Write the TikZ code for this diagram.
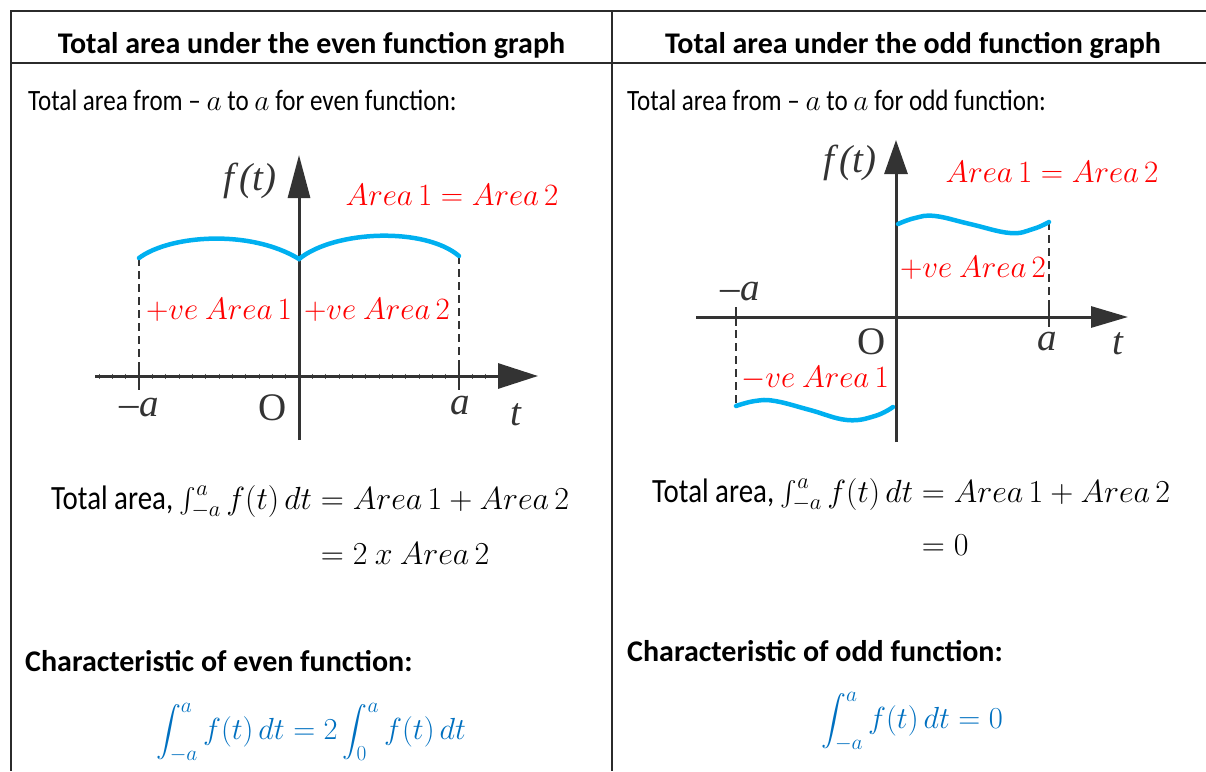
\RequirePackage{fix-cm}
\documentclass[tikz,border=0pt]{standalone}
\usepackage[no-math]{fontspec}
\setmainfont{Carlito}
\newfontfamily\cond[FakeStretch=0.85]{Carlito}
\newfontfamily\tms{Liberation Serif}
\usepackage{amsmath}
\usetikzlibrary{arrows.meta}
\definecolor{gridc}{HTML}{2B2B2B}
\definecolor{axisc}{HTML}{333333}
\definecolor{curvec}{HTML}{00B0F0}
\definecolor{redc}{HTML}{FF0000}
\definecolor{bluec}{HTML}{0070C0}
\newcommand{\plain}[1]{\text{\cond\fontsize{34}{38}\selectfont #1}}
\begin{document}
\begin{tikzpicture}[x=1pt,y=-1pt,
  rule/.style={gridc,line width=2pt},
  axis/.style={axisc,line width=3pt},
  tick/.style={axisc,line width=2.5pt},
  minor/.style={axisc!80,line width=0.8pt},
  guide/.style={axisc,line width=1.8pt,dash pattern=on 8pt off 5pt},
  curve/.style={curvec,line width=4.5pt,line cap=round},
  hdr/.style={inner sep=0pt,font=\bfseries\fontsize{30}{36}\selectfont},
  body/.style={inner sep=0pt,anchor=west,font=\cond\fontsize{29.5}{34}\selectfont},
  boldbody/.style={inner sep=0pt,anchor=west,font=\bfseries\fontsize{30}{36}\selectfont},
  eqn/.style={inner sep=0pt,anchor=base west,font=\fontsize{32}{38}\selectfont},
  bigeq/.style={inner sep=0pt,text=bluec,font=\fontsize{30.5}{36}\selectfont},
  redlab/.style={inner sep=0pt,text=redc,font=\fontsize{31}{36}\selectfont},
  axlab/.style={inner sep=0pt,text=axisc,font=\tms\fontsize{39}{43}\selectfont},
]
\useasboundingbox (0,0) rectangle (1206,771);
% ---------- table rules ----------
\coordinate (tl) at (11,11);
\coordinate (tr) at (1206,11);
\coordinate (hl) at (11,63);
\coordinate (hr) at (1206,63);
\coordinate (bl) at (11,771);
\coordinate (tm) at (612,11);
\coordinate (bm) at (612,771);
\draw[rule] (tr) -- (tl) -- (bl);
\draw[rule] (hl) -- (hr);
\draw[rule] (tm) -- (bm);
% ---------- headers ----------
\node[hdr] (h1) at (311.5,45) {Total area under the even function graph};
\node[hdr] (h2) at (913,45) {Total area under the odd function graph};
\node[body] (l1) at (28,100) {Total area from – $a$ to $a$ for even function:};
\node[body] (r1) at (627,100) {Total area from – $a$ to $a$ for odd function:};
% ---------- even graph ----------
\coordinate (ex0) at (95,376);
\coordinate (ex1) at (538,376);
\coordinate (ey0) at (299,440);
\coordinate (ey1) at (299,155);
\foreach \i in {0,...,31} {\draw[minor] (99+\i*13.33,373.5) -- (99+\i*13.33,378.5);}
\draw[axis,-{Triangle[length=40pt,width=25pt]}] (ex0) -- (ex1);
\draw[axis,-{Triangle[length=43pt,width=22pt]}] (ey0) -- (ey1);
\coordinate (ema) at (139,258);
\coordinate (epa) at (459,256);
\coordinate (ecu) at (299,259);
\draw[tick] (139,366) -- (139,390);
\draw[tick] (459,363) -- (459,390);
\draw[guide] (ema) -- (139,376);
\draw[guide] (epa) -- (459,376);
\draw[curve] (ema) .. controls (170,235) and (250,229) .. (ecu)
  .. controls (335,230) and (425,227) .. (epa);
\node[axlab] (eft) at (250,181) {\itshape f\/(t)};
\node[axlab] (ema-l) at (139,408) {\itshape –a};
\node[axlab] (eo) at (273,408) {O};
\node[axlab] (ea-l) at (460,406) {\itshape a};
\node[axlab] (et) at (516,415) {\itshape t};
\node[redlab] (ered) at (452,195) {$Area\,1 = Area\,2$};
\node[redlab] (ep1) at (219,310) {$+ve\ Area\,1$};
\node[redlab] (ep2) at (377,310) {$+ve\ Area\,2$};
% ---------- odd graph ----------
\coordinate (ox0) at (696,317);
\coordinate (ox1) at (1128,317);
\coordinate (oy0) at (896,442);
\coordinate (oy1) at (896,140);
\draw[axis,-{Triangle[length=37pt,width=21pt]}] (ox0) -- (ox1);
\draw[axis,-{Triangle[length=34pt,width=23pt]}] (oy0) -- (oy1);
\coordinate (oma) at (736,406);
\coordinate (opa) at (1049,222);
\draw[tick] (736,307) -- (736,326);
\draw[tick] (1049,307) -- (1049,327);
\draw[guide] (736,317) -- (oma);
\draw[guide] (opa) -- (1049,317);
\draw[curve] plot[smooth,tension=0.7] coordinates {(898,224) (915,218) (935,216) (970,224) (1010,233) (1033,229) (1049,222)};
\draw[curve] plot[smooth,tension=0.7] coordinates {(736,406) (755,401) (775,401) (810,410) (847,420) (875,416) (893,407)};
\node[axlab] (oft) at (850,163) {\itshape f\/(t)};
\node[axlab] (oma-l) at (740,292) {\itshape –a};
\node[axlab] (oo) at (872,342) {O};
\node[axlab] (oa-l) at (1047,342) {\itshape a};
\node[axlab] (ot) at (1118,344) {\itshape t};
\node[redlab] (ored) at (1052,172) {$Area\,1 = Area\,2$};
\node[redlab] (op2) at (973,268) {$+ve\ Area\,2$};
\node[redlab] (on1) at (815,378) {$-ve\ Area\,1$};
% ---------- equations ----------
\node[eqn] (le) at (51,509) {$\begin{aligned}[t]\plain{Total area,\ }{\textstyle\int_{-a}^{a}}\, f(t)\,dt &= Area\,1 + Area\,2\\[14pt] &= 2\ x\ Area\,2\end{aligned}$};
\node[eqn] (re) at (652,502) {$\begin{aligned}[t]\plain{Total area,\ }{\textstyle\int_{-a}^{a}}\, f(t)\,dt &= Area\,1 + Area\,2\\[12pt] &= 0\end{aligned}$};
\node[boldbody] (lc) at (25,661) {Characteristic of even function:};
\node[boldbody] (rc) at (627,651) {Characteristic of odd function:};
\node[bigeq] (lf) at (311,733) {$\displaystyle\int_{-a}^{a} f(t)\,dt = 2\int_{0}^{a} f(t)\,dt$};
\node[bigeq] (rf) at (912,722) {$\displaystyle\int_{-a}^{a} f(t)\,dt = 0$};
\end{tikzpicture}
\end{document}
